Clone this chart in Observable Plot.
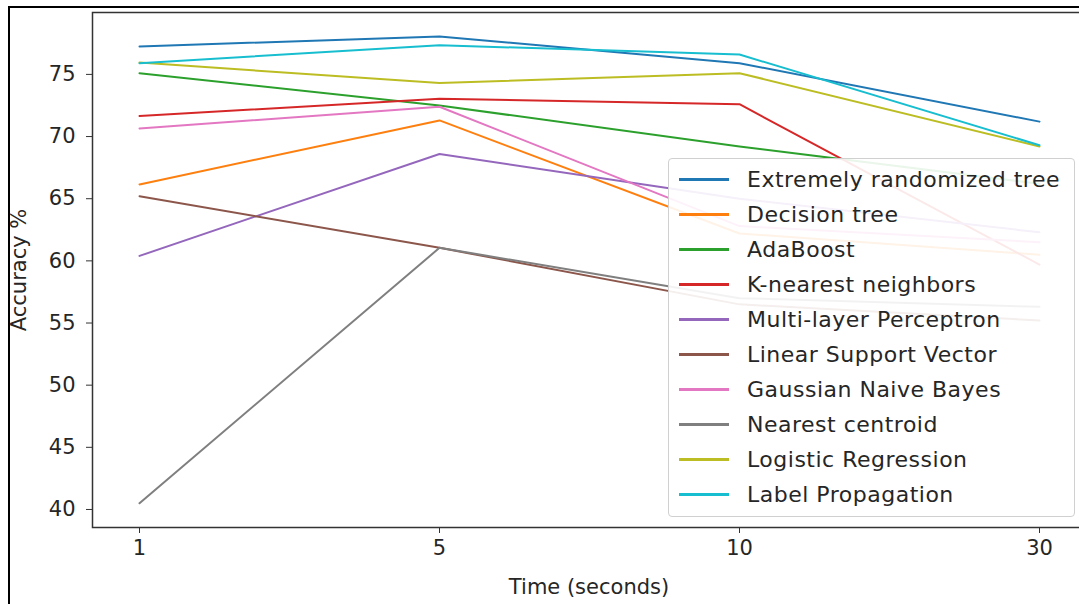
<!DOCTYPE html>
<html><head><meta charset="utf-8">
<script src="https://cdn.jsdelivr.net/npm/d3@7"></script>
<script src="https://cdn.jsdelivr.net/npm/@observablehq/plot@0.6"></script>
<style>
html,body{margin:0;padding:0;background:#fff;overflow:hidden;}
#wrap{position:relative;width:1079px;height:604px;overflow:hidden;font-family:"DejaVu Sans",sans-serif;}
#border{position:absolute;left:8px;top:6px;right:-10px;bottom:-10px;border-left:2px solid #000;border-top:2px solid #000;}
#chart{position:absolute;left:0;top:0;width:1086px;}
#chart svg{max-width:none !important;}
#legend{position:absolute;left:668px;top:158px;width:407px;height:359px;background:rgba(255,255,255,0.9);border:1px solid #d0d0d0;border-radius:4px;padding-top:3px;box-sizing:border-box;}
.row{height:35px;display:flex;align-items:center;font-size:22px;letter-spacing:0.5px;color:#262626;white-space:nowrap;}
.sw{width:50px;height:2.5px;margin-left:10px;margin-right:18px;flex:none;}
</style></head>
<body><div id="wrap"><div id="border"></div><div id="chart"></div><div id="legend"></div></div>
<script>
const times = ["1", "5", "10", "30"];
const yTicks = [40, 45, 50, 55, 60, 65, 70, 75];
const models = ["Extremely randomized tree", "Decision tree", "AdaBoost", "K-nearest neighbors",
  "Multi-layer Perceptron", "Linear Support Vector", "Gaussian Naive Bayes", "Nearest centroid",
  "Logistic Regression", "Label Propagation"];
const colors = ["#1f77b4", "#ff7f0e", "#2ca02c", "#d62728", "#9467bd", "#8c564b", "#e377c2", "#7f7f7f", "#bcbd22", "#17becf"];

const extraTrees      = [77.25, 78.05, 75.9, 71.2];
const decisionTree    = [66.15, 71.3, 62.2, 60.5];
const adaBoost        = [75.1, 72.5, 69.2, 66.2];
const kNearest        = [71.65, 73.05, 72.6, 59.7];
const multiLayer      = [60.4, 68.6, 65.0, 62.3];
const linearSV        = [65.2, 61.05, 56.5, 55.2];
const gaussianNB      = [70.65, 72.4, 62.8, 61.5];
const nearestCentroid = [40.5, 61.05, 57.0, 56.3];
const logisticReg     = [75.95, 74.3, 75.1, 69.2];
const labelProp       = [75.9, 77.35, 76.6, 69.3];

const series = [extraTrees, decisionTree, adaBoost, kNearest, multiLayer, linearSV, gaussianNB, nearestCentroid, logisticReg, labelProp];
const data = [];
series.forEach((vals, i) => vals.forEach((v, j) => data.push({model: models[i], time: times[j], acc: v})));

const chart = Plot.plot({
  width: 1086, height: 604,
  marginLeft: 92, marginRight: 1, marginTop: 12, marginBottom: 77,
  style: {fontFamily: "DejaVu Sans, sans-serif", fontSize: "21px", color: "#262626", background: "transparent", maxWidth: "none"},
  x: {type: "point", domain: times, padding: 0.15},
  y: {domain: [38.55, 79.98]},
  color: {domain: models, range: colors},
  marks: [
    Plot.line(data, {x: "time", y: "acc", z: "model", stroke: "model", strokeWidth: 2}),
    Plot.frame({stroke: "#333", strokeWidth: 1.5}),
    Plot.axisY({ticks: yTicks, tickSize: 6, tickPadding: 11, fontSize: 21, stroke: "#333",
      label: "Accuracy %", labelAnchor: "center", labelArrow: "none", labelOffset: 81}),
    Plot.axisX({tickSize: 6, tickPadding: 7, fontSize: 21, stroke: "#333",
      label: "Time (seconds)", labelAnchor: "center", labelArrow: "none", labelOffset: 66})
  ]
});
document.getElementById("chart").appendChild(chart);

const legend = document.getElementById("legend");
models.forEach((m, i) => {
  const row = document.createElement("div");
  row.className = "row";
  const sw = document.createElement("span");
  sw.className = "sw";
  sw.style.background = colors[i];
  const t = document.createElement("span");
  t.textContent = m;
  row.appendChild(sw); row.appendChild(t);
  legend.appendChild(row);
});
</script>
</body></html>
